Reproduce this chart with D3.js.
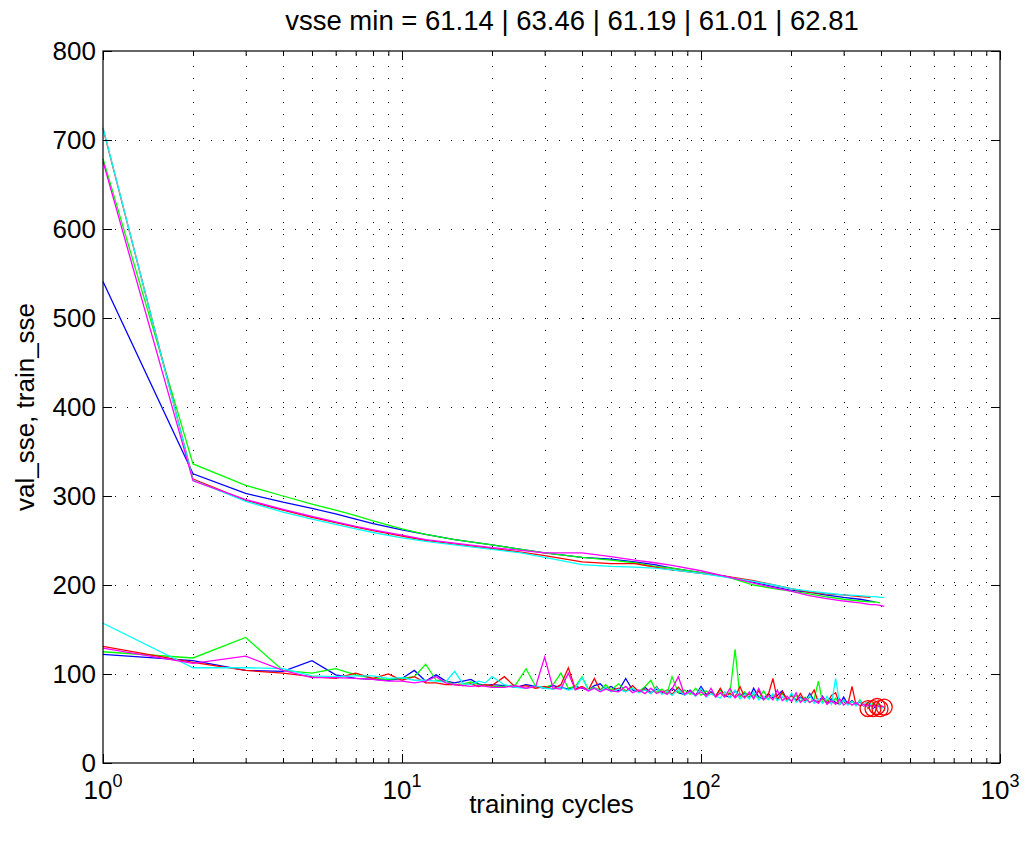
<html>

<head>
    <style>
        body {
            margin: 0;
            background: #ffffff;
            font-family: "Liberation Sans", Arial, Helvetica, sans-serif;
        }

        svg { display: block; }

        .grid line {
            stroke: #000000;
            stroke-width: 1;
            stroke-dasharray: 1, 11;
            shape-rendering: crispEdges;
        }

        .tick line { stroke: #000000; }
    </style>

    <script src="https://cdn.jsdelivr.net/npm/d3@7/dist/d3.min.js"></script>
</head>

<body>
    <svg id="chart"></svg>

<script>
    // five training runs, matlab colour order b g r c m
    const runColors = ["#0000ff", "#00ff00", "#ff0000", "#00ffff", "#ff00ff"];
    const vsseMin   = [61.14, 63.46, 61.19, 61.01, 62.81];
    const minEpoch  = [376, 388, 362, 397, 410];

    const yTicks   = [0, 100, 200, 300, 400, 500, 600, 700, 800];
    const xDecades = [1, 10, 100, 1000];

    // training error (upper curves), null = run already stopped
    const trainEpochs  = [1, 2, 3, 4, 5, 6, 7, 8, 10, 12, 15, 20, 25, 30, 40, 50, 60, 70, 80, 100, 120, 150, 175, 200, 230, 260, 300, 340, 369, 382, 397, 410];
    const trainBlue    = [541, 325, 303, 293, 286, 280, 274, 269, 262, 257, 251, 245, 240, 236, 231, 229, 226, 223, 219, 214, 210, 203, 198, 194, 192, 189, 186, 184, 182, 181, null, null];
    const trainGreen   = [679, 336, 312, 300, 291, 284, 278, 272, 263, 257, 251, 245, 240, 236, 231, 228, 225, 221, 219, 214, 210, 200, 196, 193, 190, 187, 184, 182, 181, 181, 180, null];
    const trainRed     = [713, 319, 295, 284, 276, 270, 265, 261, 255, 250, 246, 241, 237, 233, 226, 224, 224, 220, 217, 213, 210, 205, 200, 196, 192, 190, 189, 187, 186, null, null, null];
    const trainCyan    = [714, 318, 294, 282, 274, 268, 263, 259, 253, 249, 245, 240, 236, 231, 223, 221, 220, 219, 217, 213, 209, 204, 200, 196, 193, 191, 189, 188, 187, 187, 186, 186];
    const trainMagenta = [676, 317, 296, 285, 277, 271, 266, 262, 256, 251, 247, 242, 239, 236, 236, 232, 228, 225, 222, 216, 210, 202, 197, 193, 188, 185, 182, 180, 178, 178, 177, 176];

    // validation error (lower, noisy curves)
    const valEpochs = [1, 2, 3, 4, 5, 6, 7, 8, 9, 10, 11, 12, 13, 14, 15, 16, 17, 18, 19, 20,
        22, 24, 26, 28, 30, 32, 34, 36, 38, 40, 42, 44, 46, 48, 50,
        53, 56, 59, 62, 65, 68, 71, 74, 77, 80,
        84, 88, 92, 96, 100, 104, 108, 112, 116, 120,
        125, 130, 135, 140, 145, 150, 156, 162, 168, 174, 180,
        187, 194, 201, 208, 215, 223, 231, 239, 247, 255,
        264, 273, 282, 291, 300, 310, 320, 330, 340, 350,
        356, 362, 369, 376, 382, 388, 393, 397, 402, 406, 410];
    const valBlue = [122, 115, 104, 103, 115, 99, 95, 94, 93, 95, 104, 92, 99, 92, 90, 92, 94, 89, 87, 88,
        87, 85, 88, 86, 84, 87, 85, 83, 86, 84, 82, 87, 89, 83, 86,
        81, 95, 82, 80, 85, 79, 83, 80, 78, 84,
        79, 77, 82, 76, 86, 77, 80, 75, 83, 76,
        74, 81, 75, 79, 73, 84, 74, 72, 78, 73, 76,
        81, 71, 77, 70, 74, 69, 78, 70, 68, 75,
        67, 72, 68, 66, 74, 66, 70, 65, 69, 64,
        67, 64, 66, 61.14, 63, null, null, null, null, null, null];
    const valGreen = [125, 118, 141, 104, 101, 106, 99, 95, 94, 95, 97, 111, 93, 92, 88, 89, 91, 88, 87, 86,
        86, 88, 106, 86, 85, 88, 101, 84, 86, 97, 83, 85, 82, 88, 82,
        89, 81, 84, 80, 86, 93, 79, 83, 78, 97,
        79, 82, 77, 84, 76, 81, 78, 75, 82, 76,
        79, 127.6, 74, 80, 73, 77, 73, 81, 72, 76, 71,
        78, 72, 70, 76, 69, 74, 68, 72, 92, 68,
        71, 67, 73, 66, 70, 66, 69, 65, 71, 65,
        66, 68, 65, 67, 64, 63.46, 66, 64, null, null, null];
    const valRed = [131, 113, 104, 101, 97, 95, 101, 95, 100, 93, 97, 90, 90, 88, 88, 87, 89, 86, 88, 87,
        97, 85, 87, 84, 86, 83, 88, 107, 83, 86, 82, 95, 82, 85, 81,
        84, 80, 87, 80, 83, 78, 86, 78, 82, 77,
        85, 77, 80, 76, 83, 76, 79, 75, 84, 75,
        78, 74, 86, 74, 78, 73, 81, 72, 77, 95, 71,
        80, 71, 76, 70, 78, 69, 74, 82, 68, 73,
        67, 76, 79, 66, 71, 66, 86, 65, 70, 64,
        67, 61.19, 65, null, null, null, null, null, null, null, null];
    const valCyan = [157, 107, 107, 106, 98, 97, 98, 98, 95, 96, 93, 93, 92, 91, 103, 89, 88, 92, 90, 97,
        88, 85, 84, 87, 84, 83, 85, 82, 84, 96, 82, 84, 81, 85, 80,
        83, 80, 84, 79, 82, 78, 85, 77, 81, 76,
        83, 76, 80, 75, 84, 74, 78, 75, 73, 80,
        73, 82, 72, 77, 72, 80, 71, 75, 71, 78, 70,
        75, 69, 79, 68, 73, 68, 76, 67, 72, 67,
        75, 66, 95, 66, 71, 65, 69, 64, 70, 64,
        68, 63, 67, 62, 66, 62, 64, 61.01, 64, 62, 63];
    const valMagenta = [129, 112, 120, 104, 96, 96, 95, 94, 92, 92, 90, 92, 97, 90, 88, 87, 86, 87, 86, 85,
        85, 87, 84, 86, 119, 84, 83, 101, 82, 85, 81, 84, 80, 83, 81,
        80, 86, 79, 82, 78, 84, 78, 81, 77, 83,
        97, 77, 81, 76, 80, 75, 84, 74, 79, 74,
        84, 73, 78, 73, 80, 72, 84, 71, 76, 71, 82,
        70, 75, 69, 79, 68, 73, 68, 71, 67, 74,
        66, 70, 66, 72, 65, 69, 65, 68, 64, 66,
        64, 66, 64, 65, 63.5, 65, 64, 63.5, 64, 63.5, 62.81];

    const trainRuns = [trainBlue, trainGreen, trainRed, trainCyan, trainMagenta];
    const valRuns   = [valBlue, valGreen, valRed, valCyan, valMagenta];


    function buildConfig() {
        let width = 1030;
        let height = 847;
        let margins = { top: 51, bottom: 84, left: 103, right: 30 };
        let bodyWidth  = width - margins.left - margins.right;
        let bodyHeight = height - margins.top - margins.bottom;

        let container = d3.select("#chart")
            .attr("width", width)
            .attr("height", height);

        return { width, height, margins, bodyWidth, bodyHeight, container };
    }

    function buildScales(config) {
        let x = d3.scaleLog()
            .domain([1, 1000])
            .range([0, config.bodyWidth]);

        let y = d3.scaleLinear()
            .domain([0, 800])
            .range([config.bodyHeight, 0]);

        return { x, y };
    }

    function drawGrid(body, scales, config) {
        let { x, y } = scales;
        let xLines = x.ticks().filter(d => d > 1 && d < 1000);
        let yLines = yTicks.filter(d => d > 0 && d < 800);

        let grid = body.append("g").attr("class", "grid");

        grid.selectAll(".v")
            .data(xLines)
            .enter().append("line")
                .attr("x1", d => Math.round(x(d)) + 0.5)
                .attr("x2", d => Math.round(x(d)) + 0.5)
                .attr("y1", config.bodyHeight)
                .attr("y2", 0);

        grid.selectAll(".h")
            .data(yLines)
            .enter().append("line")
                .attr("x1", 0)
                .attr("x2", config.bodyWidth)
                .attr("y1", d => Math.round(y(d)) + 0.5)
                .attr("y2", d => Math.round(y(d)) + 0.5);
    }

    function drawSeries(body, scales) {
        let { x, y } = scales;
        let line = d3.line()
            .defined(d => d.v != null)
            .x(d => x(d.e))
            .y(d => y(d.v));

        // train and val of each run, in run order so magenta ends on top
        runColors.forEach((color, i) => {
            let train = trainEpochs.map((e, k) => ({ e: e, v: trainRuns[i][k] }));
            let val   = valEpochs.map((e, k) => ({ e: e, v: valRuns[i][k] }));

            body.append("path")
                .datum(train)
                .attr("d", line)
                .attr("fill", "none")
                .attr("stroke", color)
                .attr("stroke-width", 1.3);

            body.append("path")
                .datum(val)
                .attr("d", line)
                .attr("fill", "none")
                .attr("stroke", color)
                .attr("stroke-width", 1.3);
        });

        // red circles at the minimum validation error of every run
        body.selectAll(".minimo")
            .data(vsseMin)
            .enter().append("circle")
                .attr("cx", (d, i) => x(minEpoch[i]))
                .attr("cy", d => y(d))
                .attr("r", 8)
                .attr("fill", "none")
                .attr("stroke", "#ff0000")
                .attr("stroke-width", 1.3);
    }

    function drawAxes(body, scales, config) {
        let { x, y } = scales;
        let { bodyWidth, bodyHeight } = config;
        let xMinor = x.ticks().filter(d => !xDecades.includes(d));

        let bottomMajor = d3.axisBottom(x).tickValues(xDecades).tickSize(-9).tickFormat("");
        let bottomMinor = d3.axisBottom(x).tickValues(xMinor).tickSize(-5).tickFormat("");
        let topMajor = d3.axisTop(x).tickValues(xDecades).tickSize(-9).tickFormat("");
        let topMinor = d3.axisTop(x).tickValues(xMinor).tickSize(-5).tickFormat("");
        let left  = d3.axisLeft(y).tickValues(yTicks).tickSize(-9).tickPadding(7);
        let right = d3.axisRight(y).tickValues(yTicks).tickSize(-9).tickFormat("");

        body.append("g").attr("transform", `translate(0,${bodyHeight})`).call(bottomMajor);
        body.append("g").attr("transform", `translate(0,${bodyHeight})`).call(bottomMinor);
        body.append("g").call(topMajor);
        body.append("g").call(topMinor);
        body.append("g").attr("transform", `translate(${bodyWidth},0)`).call(right);
        let leftAxis = body.append("g").call(left);

        body.selectAll(".domain").remove();

        leftAxis.selectAll("text")
            .style("font-family", "'Liberation Sans', Arial, sans-serif")
            .style("font-size", "26px")
            .attr("fill", "#000");

        // 10^n labels under the x axis
        let xLabels = body.selectAll(".xlabel")
            .data(xDecades)
            .enter().append("text")
                .attr("x", d => x(d))
                .attr("y", bodyHeight + 36)
                .attr("text-anchor", "middle")
                .style("font-size", "26px");
        xLabels.append("tspan").text("10");
        xLabels.append("tspan")
            .attr("dy", -12)
            .style("font-size", "18px")
            .text(d => Math.round(Math.log10(d)));

        // the box
        body.append("rect")
            .attr("x", 0)
            .attr("y", 0)
            .attr("width", bodyWidth)
            .attr("height", bodyHeight)
            .attr("fill", "none")
            .attr("stroke", "#000")
            .attr("stroke-width", 1.2);
    }

    function drawTexts(config) {
        let { container, margins, bodyWidth, bodyHeight } = config;

        container.append("text")
            .attr("x", 572)
            .attr("y", 30)
            .attr("text-anchor", "middle")
            .style("font-size", "27.5px")
            .text("vsse min = " + vsseMin.map(v => v.toFixed(2)).join(" | "));

        container.append("text")
            .attr("x", margins.left + bodyWidth / 2)
            .attr("y", margins.top + bodyHeight + 50)
            .attr("text-anchor", "middle")
            .style("font-size", "26px")
            .text("training cycles");

        container.append("text")
            .attr("transform", `translate(34,${margins.top + bodyHeight / 2}) rotate(-90)`)
            .attr("text-anchor", "middle")
            .style("font-size", "26px")
            .text("val_sse, train_sse");
    }

    function drawChart() {
        let config = buildConfig();
        let scales = buildScales(config);
        let body = config.container.append("g")
            .attr("transform", `translate(${config.margins.left},${config.margins.top})`);

        drawGrid(body, scales, config);
        drawSeries(body, scales);
        drawAxes(body, scales, config);
        drawTexts(config);
    }

    drawChart();
</script>
</body>
</html>
